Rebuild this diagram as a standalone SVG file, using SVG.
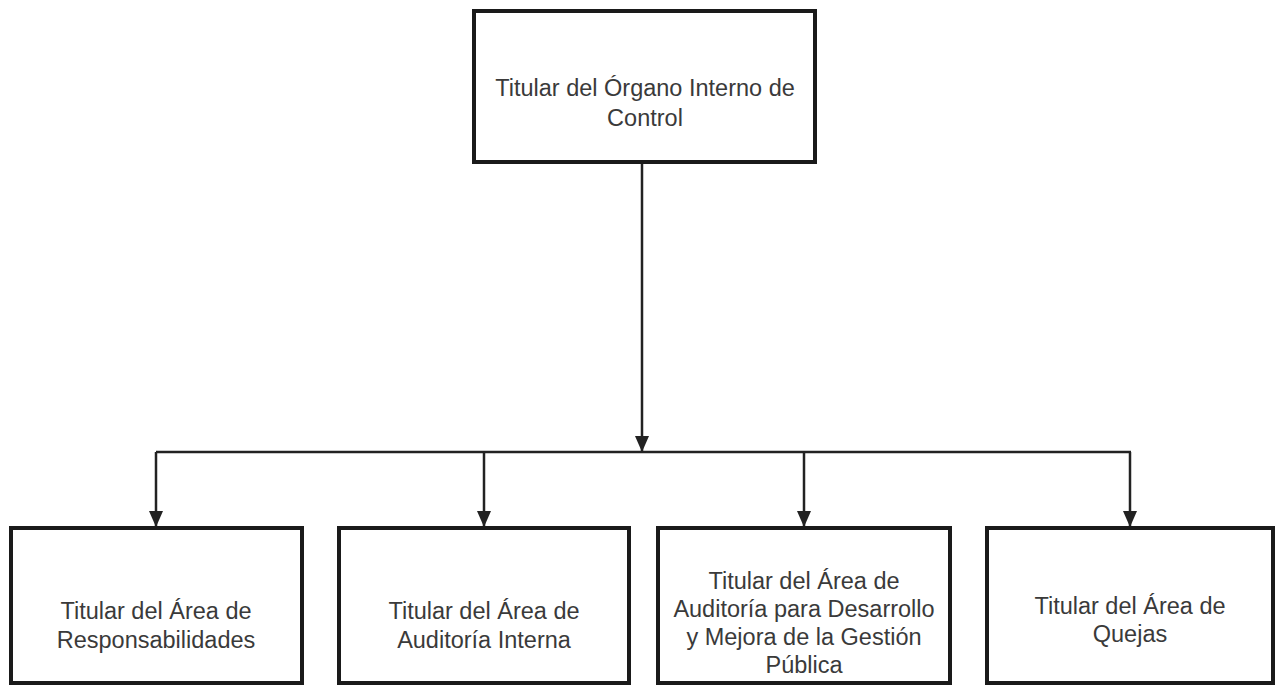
<svg xmlns="http://www.w3.org/2000/svg" width="1276" height="686" viewBox="0 0 1276 686">
<style>
.box{fill:#fff;stroke:#1a1a1a;stroke-width:4}
.ln{fill:none;stroke:#222;stroke-width:2.5}
.t{font-family:"Liberation Sans",Arial,sans-serif;font-size:23.5px;fill:#3a3a3a;text-anchor:middle}
</style>
<defs>
<marker id="ad" viewBox="0 0 16 14" refX="16" refY="7" markerWidth="16" markerHeight="14" markerUnits="userSpaceOnUse" orient="auto">
<path d="M0,0 L16,7 L0,14 Z" fill="#222"/>
</marker>
</defs>
<rect width="1276" height="686" fill="#fff"/>
<g id="connectors">
<line class="ln" x1="642" y1="163" x2="642" y2="452" marker-end="url(#ad)"/>
<line class="ln" x1="156" y1="452" x2="1131" y2="452"/>
<line class="ln" x1="156" y1="452" x2="156" y2="527" marker-end="url(#ad)"/>
<line class="ln" x1="484" y1="452" x2="484" y2="527" marker-end="url(#ad)"/>
<line class="ln" x1="804" y1="452" x2="804" y2="527" marker-end="url(#ad)"/>
<line class="ln" x1="1130" y1="452" x2="1130" y2="527" marker-end="url(#ad)"/>
</g>
<g id="n0">
<rect class="box" x="474" y="11" width="341" height="151"/>
<text class="t" x="645" y="96">Titular del Órgano Interno de</text>
<text class="t" x="645" y="126">Control</text>
</g>
<g id="n1">
<rect class="box" x="11" y="528" width="291" height="155"/>
<text class="t" x="156" y="619">Titular del Área de</text>
<text class="t" x="156" y="648">Responsabilidades</text>
</g>
<g id="n2">
<rect class="box" x="339" y="528" width="290" height="155"/>
<text class="t" x="484" y="619">Titular del Área de</text>
<text class="t" x="484" y="648">Auditoría Interna</text>
</g>
<g id="n3">
<rect class="box" x="658" y="528" width="292" height="155"/>
<text class="t" x="804" y="589">Titular del Área de</text>
<text class="t" x="804" y="617">Auditoría para Desarrollo</text>
<text class="t" x="804" y="645">y Mejora de la Gestión</text>
<text class="t" x="804" y="673">Pública</text>
</g>
<g id="n4">
<rect class="box" x="987" y="528" width="286" height="155"/>
<text class="t" x="1130" y="614">Titular del Área de</text>
<text class="t" x="1130" y="642">Quejas</text>
</g>
</svg>
